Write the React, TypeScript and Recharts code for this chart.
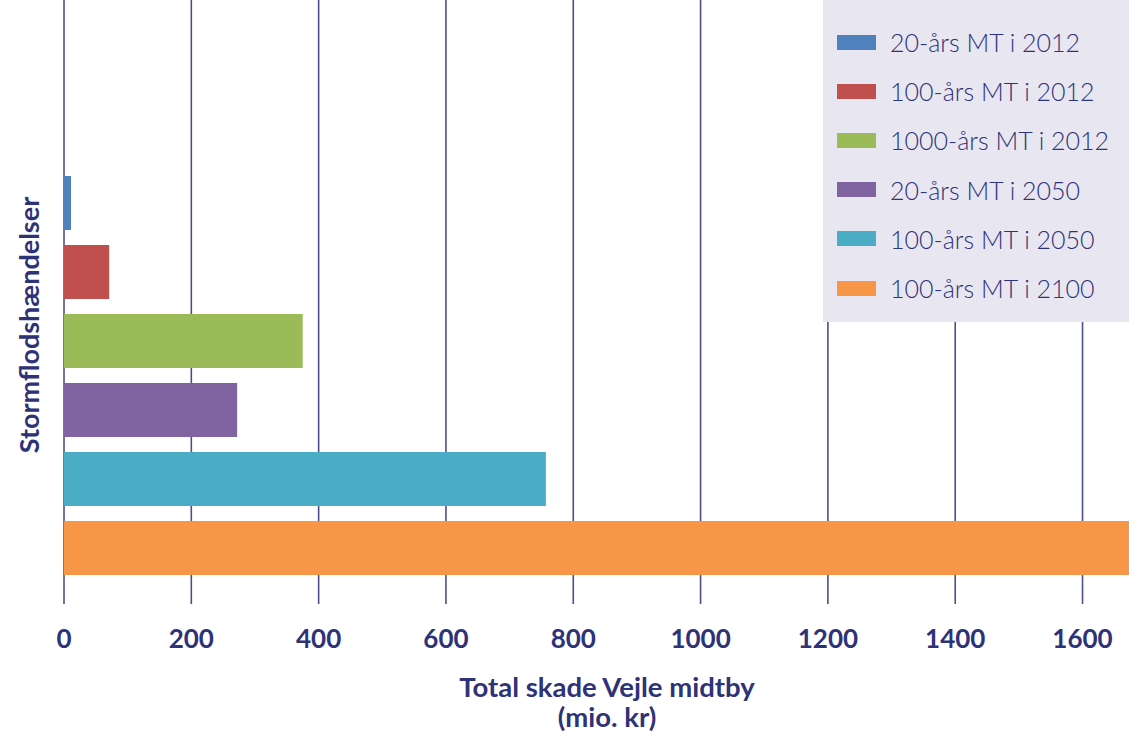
import { Bar, BarChart, CartesianGrid, Cell, Label, XAxis, YAxis } from "recharts";

const events = [
  "20-års MT i 2012",
  "100-års MT i 2012",
  "1000-års MT i 2012",
  "20-års MT i 2050",
  "100-års MT i 2050",
  "100-års MT i 2100",
];
const damage = [11, 71, 375, 272, 757, 1700];
const colors = ["#4f81bd", "#c0504d", "#9bbb59", "#8064a2", "#4bacc6", "#f79646"];
const xTicks = [0, 200, 400, 600, 800, 1000, 1200, 1400, 1600];
const xMax = 1673;

const NAVY = "#2e3277";
const GRID = "#4b4f8c";
const FONT = "Lato, 'Open Sans', sans-serif";

const data = events.map((name, i) => ({ name, value: damage[i] }));

function XTick({ x, y, payload }: any) {
  return (
    <text x={x} y={y + 36} textAnchor="middle" fill={NAVY} fontSize={26} fontWeight={700} fontFamily={FONT}>
      {payload.value}
    </text>
  );
}

function XTitle({ viewBox }: any) {
  const cx = viewBox.x + 543;
  return (
    <text textAnchor="middle" fill={NAVY} fontSize={27.5} fontWeight={700} fontFamily={FONT}>
      <tspan x={cx} y={697}>Total skade Vejle midtby</tspan>
      <tspan x={cx} y={727}>(mio. kr)</tspan>
    </text>
  );
}

function YTitle() {
  return (
    <text
      x={28}
      y={325}
      transform="rotate(-90 28 325)"
      textAnchor="middle"
      dominantBaseline="central"
      fill={NAVY}
      fontSize={27}
      fontWeight={700}
      fontFamily={FONT}
    >
      Stormflodshændelser
    </text>
  );
}

// grid only at the tick values, not at the domain edge
function gridX({ offset }: any) {
  return xTicks.map((t) => offset.left + (t / xMax) * offset.width);
}

export default function App() {
  return (
    <div style={{ position: "absolute", left: 0, top: 0, width: 1129, height: 733, background: "#fff" }}>
      <BarChart
        width={1129}
        height={733}
        data={data}
        layout="vertical"
        margin={{ top: 0, right: 0, bottom: 0, left: 0 }}
      >
        <CartesianGrid horizontal={false} stroke={GRID} strokeWidth={1.6} verticalCoordinatesGenerator={gridX} />
        <XAxis
          type="number"
          domain={[0, xMax]}
          ticks={xTicks}
          allowDataOverflow
          axisLine={false}
          tickLine={false}
          height={129}
          tick={<XTick />}
        >
          <Label content={<XTitle />} />
        </XAxis>
        <YAxis
          type="category"
          dataKey="name"
          width={64}
          axisLine={false}
          tickLine={false}
          tick={false}
          padding={{ top: 168, bottom: 22 }}
        >
          <Label content={<YTitle />} />
        </YAxis>
        <Bar dataKey="value" barSize={54} isAnimationActive={false}>
          {data.map((d, i) => (
            <Cell key={d.name} fill={colors[i]} />
          ))}
        </Bar>
      </BarChart>
      <div
        style={{
          position: "absolute",
          left: 823,
          top: 0,
          width: 306,
          height: 322,
          background: "#e8e6f0",
          fontFamily: FONT,
          color: NAVY,
        }}
      >
        {events.map((name, i) => (
          <div
            key={name}
            style={{ position: "absolute", left: 14, top: 42 + i * 49.2 - 18, height: 36, display: "flex", alignItems: "center" }}
          >
            <span style={{ display: "inline-block", width: 39, height: 15, background: colors[i], marginRight: 14 }} />
            <span style={{ fontSize: 25, fontWeight: 300, whiteSpace: "nowrap" }}>{name}</span>
          </div>
        ))}
      </div>
    </div>
  );
}
